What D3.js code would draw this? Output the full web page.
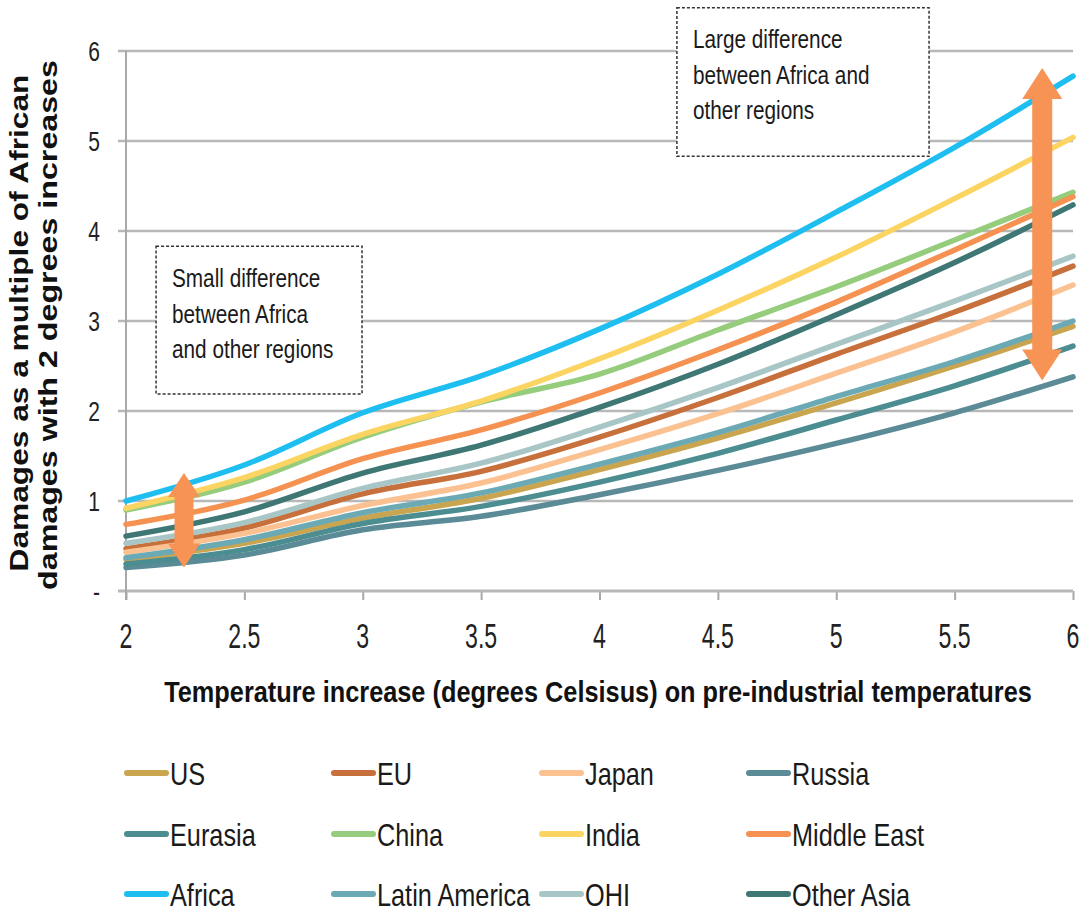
<!DOCTYPE html>
<html>
<head>
<meta charset="utf-8">
<script src="https://cdn.jsdelivr.net/npm/d3@7"></script>
<style>
  html, body { margin: 0; padding: 0; background: #fff; }
  svg { display: block; font-family: "Liberation Sans", Arial, sans-serif; }
</style>
</head>
<body>
<svg id="chart" width="1086" height="916"></svg>
<script>
// Temperature increase above pre-industrial (degrees C)
const temps = [2, 2.5, 3, 3.5, 4, 4.5, 5, 5.5, 6];

// Damages relative to African damages at +2 degrees, one array per region
const us           = [0.35, 0.53, 0.81, 1.03, 1.35, 1.70, 2.09, 2.50, 2.94];
const eu           = [0.47, 0.70, 1.08, 1.33, 1.71, 2.15, 2.63, 3.10, 3.61];
const japan        = [0.43, 0.64, 0.95, 1.20, 1.57, 1.97, 2.42, 2.88, 3.40];
const russia       = [0.26, 0.40, 0.68, 0.83, 1.07, 1.34, 1.64, 1.98, 2.38];
const eurasia      = [0.30, 0.46, 0.75, 0.94, 1.21, 1.53, 1.90, 2.28, 2.72];
const china        = [0.90, 1.21, 1.71, 2.10, 2.41, 2.90, 3.38, 3.90, 4.43];
const india        = [0.92, 1.26, 1.74, 2.11, 2.58, 3.12, 3.71, 4.36, 5.04];
const middleEast   = [0.74, 1.01, 1.47, 1.79, 2.20, 2.68, 3.21, 3.79, 4.38];
const africa       = [1.00, 1.40, 1.98, 2.39, 2.91, 3.52, 4.21, 4.93, 5.72];
const latinAmerica = [0.37, 0.57, 0.87, 1.09, 1.41, 1.76, 2.16, 2.55, 3.00];
const ohi          = [0.53, 0.76, 1.14, 1.42, 1.82, 2.26, 2.74, 3.22, 3.72];
const otherAsia    = [0.61, 0.88, 1.31, 1.62, 2.04, 2.52, 3.07, 3.65, 4.29];

const regionNames  = ["US", "EU", "Japan", "Russia", "Eurasia", "China", "India",
                      "Middle East", "Africa", "Latin America", "OHI", "Other Asia"];
const regionValues = [us, eu, japan, russia, eurasia, china, india,
                      middleEast, africa, latinAmerica, ohi, otherAsia];
const regionColors = ["#c9a550", "#c8703c", "#fbc191", "#5b8b96", "#4b8d90", "#95cd7d",
                      "#fbd462", "#f59251", "#1ebff0", "#6ba9b4", "#a9c6c6", "#3f7775"];

const xTicks = [2, 2.5, 3, 3.5, 4, 4.5, 5, 5.5, 6];
const yTicks = [0, 1, 2, 3, 4, 5, 6];
const yTickLabels = ["-", "1", "2", "3", "4", "5", "6"];

const series = regionNames.map((name, i) => ({
  name,
  color: regionColors[i],
  points: temps.map((t, j) => ({ t, v: regionValues[i][j] }))
}));

const svg = d3.select("#chart");
const x = d3.scaleLinear().domain([2, 6]).range([126, 1073]);
const y = d3.scaleLinear().domain([0, 6]).range([591, 51]);

// Text helper: condensed type via horizontal scaling
function label(parent, px, py, s, o) {
  return parent.append("text")
    .attr("transform", `translate(${px},${py}) scale(${o.sx || 1},1)`)
    .attr("text-anchor", o.anchor || "start")
    .attr("font-size", o.size)
    .attr("font-weight", o.weight || "normal")
    .attr("fill", o.fill || "#1a1a1a")
    .text(s);
}

// Text helper: squeeze a single line to a target width
function fitted(parent, cx, cy, s, width, o) {
  const t = parent.append("text")
    .attr("text-anchor", "middle")
    .attr("font-size", o.size)
    .attr("font-weight", o.weight || "normal")
    .attr("fill", o.fill || "#111")
    .text(s);
  const natural = t.node().getComputedTextLength();
  t.attr("transform", `translate(${cx},${cy}) rotate(${o.rotate || 0}) scale(${width / natural},1)`);
  return t;
}

// Horizontal gridlines
const grid = svg.append("g");
grid.selectAll("line").data(yTicks.filter(d => d > 0)).join("line")
  .attr("x1", 118).attr("x2", x(6))
  .attr("y1", d => y(d)).attr("y2", d => y(d))
  .attr("stroke", "#b8b8b8").attr("stroke-width", 2.5);

// X axis
const xAxis = svg.append("g").attr("transform", `translate(0,${y(0)})`)
  .call(d3.axisBottom(x).tickValues(xTicks).tickSize(9).tickFormat(""));
xAxis.select(".domain").remove();
xAxis.selectAll(".tick line").attr("stroke", "#a8a8a8").attr("stroke-width", 2);
xAxis.append("line").attr("x1", 118).attr("x2", x(6)).attr("y1", 0).attr("y2", 0)
  .attr("stroke", "#b8b8b8").attr("stroke-width", 3);

// Y axis line
const yAxis = svg.append("g").attr("transform", `translate(${x(2)},0)`)
  .call(d3.axisLeft(y).tickValues(yTicks).tickSize(0).tickFormat(""));
yAxis.select(".domain").attr("stroke", "#a8a8a8").attr("stroke-width", 2)
  .attr("d", `M0,${y(6)}V${y(0) + 9}`);

// Tick labels
xTicks.forEach(t => label(svg, x(t), 648, String(t), { size: 35, sx: 0.66, anchor: "middle", fill: "#222" }));
yTicks.forEach((t, i) => label(svg, 100, y(t) + 10, yTickLabels[i], { size: 28, sx: 0.75, anchor: "end", fill: "#222" }));

// Region lines
const line = d3.line().x(d => x(d.t)).y(d => y(d.v)).curve(d3.curveMonotoneX);
svg.append("g").selectAll("path").data(series).join("path")
  .attr("d", d => line(d.points))
  .attr("fill", "none")
  .attr("stroke", d => d.color)
  .attr("stroke-width", 5.5)
  .attr("stroke-linejoin", "round")
  .attr("stroke-linecap", "round");

// Double-headed arrows marking the spread between regions
function doubleArrow(cx, top, bottom, headLen, headHalf, shaftHalf, color) {
  const p = d3.path();
  p.moveTo(cx, top);
  p.lineTo(cx + headHalf, top + headLen);
  p.lineTo(cx + shaftHalf, top + headLen);
  p.lineTo(cx + shaftHalf, bottom - headLen);
  p.lineTo(cx + headHalf, bottom - headLen);
  p.lineTo(cx, bottom);
  p.lineTo(cx - headHalf, bottom - headLen);
  p.lineTo(cx - shaftHalf, bottom - headLen);
  p.lineTo(cx - shaftHalf, top + headLen);
  p.lineTo(cx - headHalf, top + headLen);
  p.closePath();
  svg.append("path").attr("d", p.toString()).attr("fill", color);
}
doubleArrow(x(2.245), y(1.31), y(0.26), 24, 16, 9.5, "#f79455");
doubleArrow(x(5.87), y(5.81), y(2.34), 31, 20, 10, "#f79455");

// Annotation boxes
function noteBox(x0, y0, x1, y1, lines, tx, ty) {
  const g = svg.append("g");
  g.append("rect").attr("x", x0).attr("y", y0).attr("width", x1 - x0).attr("height", y1 - y0)
    .attr("fill", "#fff").attr("stroke", "#333").attr("stroke-width", 1.5)
    .attr("stroke-dasharray", "3,2");
  lines.forEach((s, i) => label(g, tx, ty + i * 35.5, s, { size: 25, sx: 0.83, fill: "#1a1a1a" }));
}
noteBox(x(2.127), y(3.83), x(2.997), y(2.19),
  ["Small difference", "between Africa", "and other regions"], 172, 287);
noteBox(x(4.327), y(6.48), x(5.392), y(4.83),
  ["Large difference", "between Africa and", "other regions"], 693, 48);

// Axis titles
fitted(svg, 598, 702, "Temperature increase (degrees Celsisus) on pre-industrial temperatures", 868,
  { size: 30, weight: "bold" });
fitted(svg, 28, 323, "Damages as a multiple of African", 497, { size: 26, weight: "bold", rotate: -90 });
fitted(svg, 57, 325, "damages with 2 degrees increases", 530, { size: 26, weight: "bold", rotate: -90 });

// Legend: 4 columns x 3 rows
const colX = [124, 331, 539, 746];
const rowY = [773, 834, 894];
const legend = svg.append("g");
series.forEach((s, i) => {
  const cx = colX[i % 4], cy = rowY[Math.floor(i / 4)];
  legend.append("line").attr("x1", cx + 3).attr("x2", cx + 42).attr("y1", cy).attr("y2", cy)
    .attr("stroke", s.color).attr("stroke-width", 6).attr("stroke-linecap", "round");
  label(legend, cx + 46, cy + 12, s.name, { size: 32, sx: 0.79, fill: "#1a1a1a" });
});
</script>
</body>
</html>
